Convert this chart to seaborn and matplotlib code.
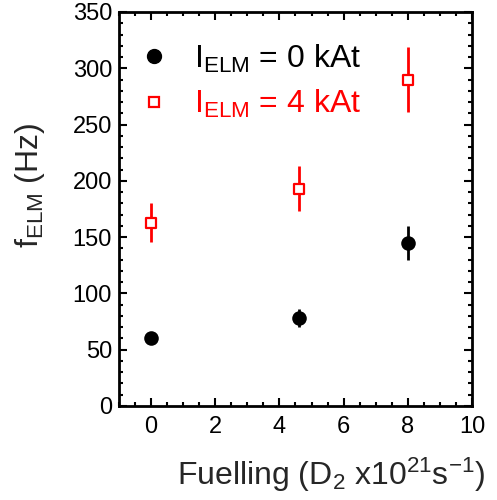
import numpy as np
import pandas as pd
import seaborn as sns
import matplotlib.pyplot as plt
from matplotlib.ticker import MultipleLocator
from matplotlib.lines import Line2D

# values
fuelling = [0.0, 4.6, 8.0]
f_elm_0 = [60, 78, 145]
err_0 = [5, 8, 15]
f_elm_4 = [163, 193, 290]
err_4 = [17, 20, 29]

sns.set_style("ticks")
plt.rcParams["font.family"] = ["Liberation Sans", "DejaVu Sans"]
plt.rcParams["mathtext.default"] = "regular"

df = pd.DataFrame({
    "fuelling": fuelling * 2,
    "f_elm": f_elm_0 + f_elm_4,
    "err": err_0 + err_4,
    "coil": ["0 kAt"] * 3 + ["4 kAt"] * 3,
})

fig = plt.figure(figsize=(4.97, 5.0), dpi=100)
ax = fig.add_axes([0.2394, 0.188, 0.7103, 0.788])

colors = {"0 kAt": "black", "4 kAt": "red"}
for coil, sub in df.groupby("coil"):
    ax.errorbar(sub["fuelling"], sub["f_elm"], yerr=sub["err"], fmt="none",
                ecolor=colors[coil], elinewidth=2, capsize=0, zorder=2)

sub0 = df[df["coil"] == "0 kAt"]
sub4 = df[df["coil"] == "4 kAt"]
sns.scatterplot(x="fuelling", y="f_elm", data=sub0, ax=ax, color="black",
                marker="o", s=110, edgecolor="black", linewidth=0, zorder=3)
sns.scatterplot(x="fuelling", y="f_elm", data=sub4, ax=ax, facecolor="white",
                marker="s", s=55, edgecolor="red", linewidth=1.6, zorder=3)

ax.set_xlim(-1, 10)
ax.set_ylim(0, 350)
ax.xaxis.set_major_locator(MultipleLocator(2))
ax.xaxis.set_minor_locator(MultipleLocator(0.5))
ax.yaxis.set_major_locator(MultipleLocator(50))
ax.yaxis.set_minor_locator(MultipleLocator(10))
ax.tick_params(which="both", direction="in", top=True, right=True,
               width=1.5, labelsize=17, colors="black")
ax.tick_params(which="major", length=6)
ax.tick_params(axis="x", which="major", pad=7)
ax.tick_params(axis="y", which="major", pad=5)
ax.tick_params(which="minor", length=3)
for s in ax.spines.values():
    s.set_linewidth(2)
    s.set_color("black")

ax.set_xlabel(r"Fuelling (D$_2$ x10$^{21}$s$^{-1}$)", fontsize=23)
ax.set_ylabel(r"f$_{ELM}$ (Hz)", fontsize=23)
ax.yaxis.set_label_coords(-0.205, 0.56)
ax.xaxis.set_label_coords(0.60, -0.125)

handles = [
    Line2D([], [], ls="none", marker="o", color="black", markersize=10),
    Line2D([], [], ls="none", marker="s", markerfacecolor="white",
           markeredgecolor="red", markeredgewidth=1.6, markersize=6.5),
]
leg = ax.legend(handles, [r"I$_{ELM}$ = 0 kAt", r"I$_{ELM}$ = 4 kAt"],
                loc="upper left", bbox_to_anchor=(0.018, 0.955), frameon=False,
                fontsize=23, handlelength=1.0, handletextpad=0.75,
                labelspacing=0.42, borderaxespad=0)
for t, c in zip(leg.get_texts(), ["black", "red"]):
    t.set_color(c)

fig.savefig("out.png", dpi=100)
